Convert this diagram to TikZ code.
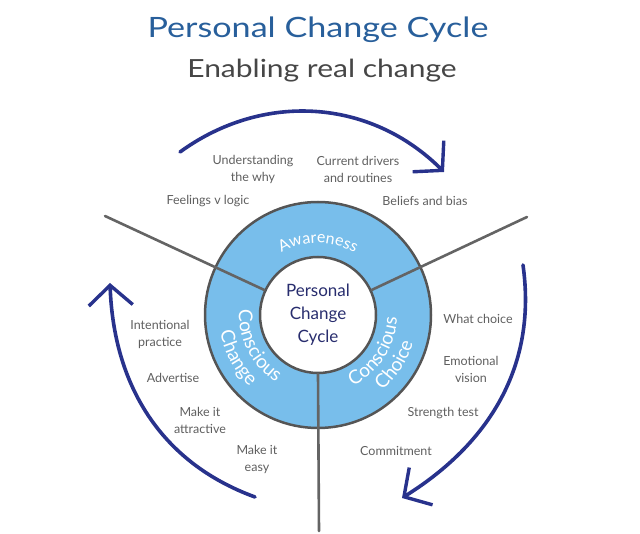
\documentclass[tikz,border=0pt]{standalone}
\usepackage{fontspec}
\setmainfont{Lato}
\usetikzlibrary{arrows.meta,decorations.text,calc}
\definecolor{titleblue}{RGB}{40,95,155}
\definecolor{subgrey}{RGB}{70,70,70}
\definecolor{labelgrey}{RGB}{95,95,95}
\definecolor{ringblue}{RGB}{120,190,235}
\definecolor{edgegrey}{RGB}{85,85,85}
\definecolor{spokegrey}{RGB}{100,100,100}
\definecolor{navy}{RGB}{40,45,110}
\definecolor{arrowblue}{RGB}{40,50,140}
\tikzset{
  lbl/.style={text=labelgrey, align=center, font=\fontsize{12.5}{17}\selectfont, inner sep=0pt},
  ringnode/.style={circle, minimum size=226pt, inner sep=0pt, fill=ringblue, draw=edgegrey, line width=2.5pt},
  corenode/.style={circle, minimum size=116pt, inner sep=0pt, fill=white, draw=edgegrey, line width=2.5pt,
    text=navy, align=center, font=\fontsize{17}{23}\selectfont},
  spokeline/.style={draw=spokegrey, line width=2.6pt, line cap=round},
  cyclearrow/.style={draw=arrowblue, line width=3.6pt, line cap=round,
    -{Straight Barb[length=20pt,width=44pt,line width=3.4pt]}},
  ringtext/.style={decorate, decoration={text along path, text align=center, text color=white,
    text={|\fontsize{19}{19}\selectfont|#1}}},
}
\begin{document}
\begin{tikzpicture}[x=1pt,y=1pt]
\useasboundingbox (0,0) rectangle (640,533);
% title
\node[anchor=base, text=titleblue, font=\fontsize{28}{30}\selectfont\addfontfeatures{FakeStretch=1.22}] (title) at (318,495) {Personal Change Cycle};
\node[anchor=base, text=subgrey, font=\fontsize{25}{27}\selectfont\addfontfeatures{FakeStretch=1.2}] (subtitle) at (322,455) {Enabling real change};
% ring
\coordinate (C) at (318,218);
\node[ringnode] (ring) at (C) {};
\node[corenode] (core) at (C) {Personal\\Change\\Cycle};
% spokes
\coordinate (spokeL) at (105,317);
\coordinate (spokeR) at (527,316);
\coordinate (spokeB) at (319,2);
\draw[spokeline] (core.155) -- (spokeL);
\draw[spokeline] (core.25) -- (spokeR);
\draw[spokeline] (core.270) -- (spokeB);
% ring texts
\path[decorate, decoration={text along path, text align=center, text color=white,
  text={|\fontsize{16}{16}\selectfont|Awareness}}]
  ($(C)+(150:72)$) arc[start angle=150, end angle=30, radius=72];
\path[ringtext=Conscious]
  ($(C)+(147:79)$) arc[start angle=147, end angle=267, radius=79];
\path[ringtext=Change]
  ($(C)+(148:99)$) arc[start angle=148, end angle=268, radius=99];
\path[ringtext=Conscious]
  ($(C)+(-93:79)$) arc[start angle=-93, end angle=27, radius=79];
\path[ringtext=Choice]
  ($(C)+(-93:99)$) arc[start angle=-93, end angle=27, radius=99];
% labels
\node[lbl] (und) at (253,364) {Understanding\\the why};
\node[lbl] (cur) at (358,364) {Current drivers\\and routines};
\node[lbl] (feel) at (208,332) {Feelings v logic};
\node[lbl] (bel) at (425,332) {Beliefs and bias};
\node[lbl] (int) at (160,199) {Intentional\\practice};
\node[lbl] (adv) at (173,155) {Advertise};
\node[lbl] (att) at (200,113) {Make it\\attractive};
\node[lbl] (easy) at (257,74) {Make it\\easy};
\node[lbl] (what) at (478,214) {What choice};
\node[lbl] (emo) at (471,164) {Emotional\\vision};
\node[lbl] (str) at (443,120) {Strength test};
\node[lbl] (com) at (396,82) {Commitment};
% arrows
\coordinate (topS) at (180,381);
\coordinate (topE) at (444,361);
\coordinate (rgtS) at (523,268);
\coordinate (rgtE) at (402,35);
\coordinate (lftS) at (255,36);
\coordinate (lftE) at (110,250);
\draw[cyclearrow] (topS) to[out=36,in=135] (topE);
\draw[cyclearrow] (rgtS) to[out=-82,in=32] (rgtE);
\draw[cyclearrow] (lftS) to[out=160,in=-88] (lftE);
\end{tikzpicture}
\end{document}
